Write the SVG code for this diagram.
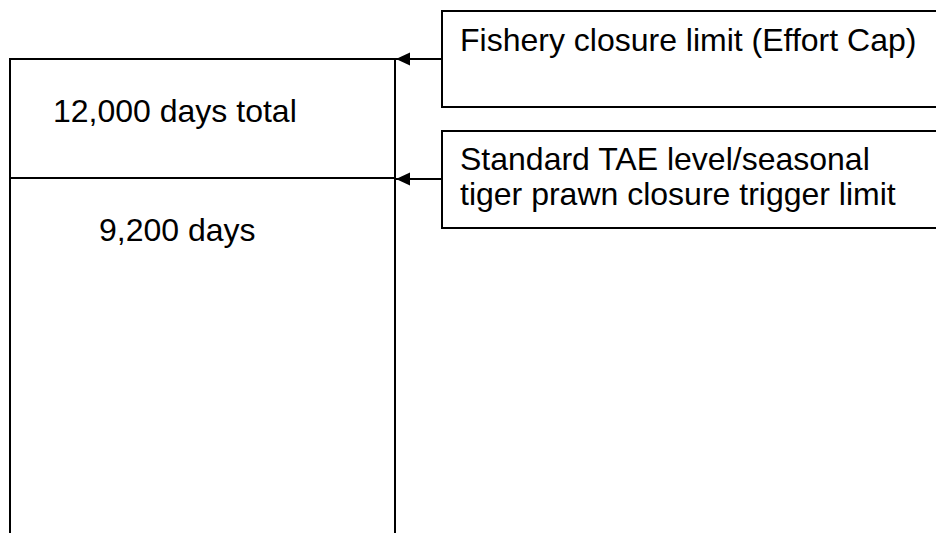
<svg xmlns="http://www.w3.org/2000/svg" width="936" height="533" viewBox="0 0 936 533">
<style>
.box{fill:#fff;stroke:#000;stroke-width:2}
.ln{fill:none;stroke:#000;stroke-width:2}
.t{font-family:"Liberation Sans",Arial,sans-serif;font-size:32px;fill:#000}
</style>
<defs>
<marker id="ah" markerUnits="userSpaceOnUse" markerWidth="15" markerHeight="14" refX="14" refY="6.5" orient="auto">
<path d="M0,0 L14,6.5 L0,13 Z" fill="#000"/>
</marker>
</defs>
<g id="stack">
<rect class="box" x="10" y="59" width="385" height="500"/>
<line class="ln" x1="10" y1="178" x2="395" y2="178"/>
<text class="t" x="53" y="122">12,000 days total</text>
<text class="t" x="99" y="241">9,200 days</text>
</g>
<g id="cap">
<rect class="box" x="442" y="11" width="520" height="96"/>
<text class="t" x="460" y="51">Fishery closure limit (Effort Cap)</text>
</g>
<g id="tae">
<rect class="box" x="442" y="131" width="520" height="97"/>
<text class="t" x="460" y="170">Standard TAE level/seasonal</text>
<text class="t" x="460" y="205">tiger prawn closure trigger limit</text>
</g>
<g id="connectors">
<line class="ln" x1="442" y1="59" x2="396" y2="59" marker-end="url(#ah)"/>
<line class="ln" x1="442" y1="179" x2="396" y2="179" marker-end="url(#ah)"/>
</g>
</svg>
